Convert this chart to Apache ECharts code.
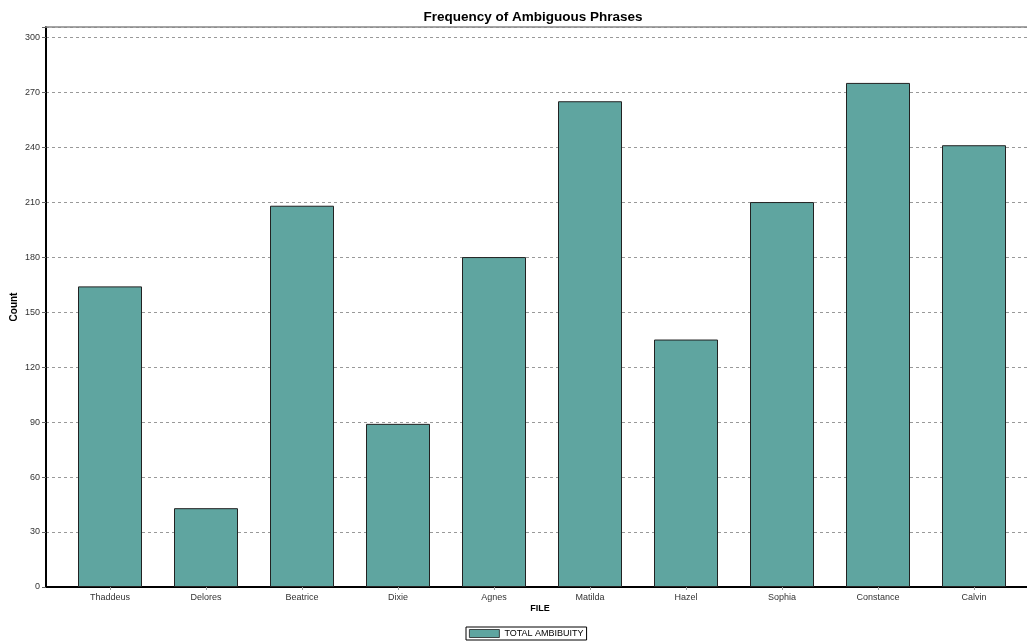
<!DOCTYPE html>
<html>
<head>
<meta charset="utf-8">
<script src="https://cdn.jsdelivr.net/npm/echarts@6/dist/echarts.min.js"></script>
<style>html,body{margin:0;padding:0;background:#fff}#c{width:1027px;height:641px}</style>
</head>
<body>
<div id="c"></div>
<script>
var categories = ['Thaddeus','Delores','Beatrice','Dixie','Agnes','Matilda','Hazel','Sophia','Constance','Calvin'];
var values = [164, 43, 208, 89, 180, 265, 135, 210, 275, 241];
var seriesName = 'TOTAL AMBIBUITY';
var yTickStep = 30;
var yMax = 305.5;

var chart = echarts.init(document.getElementById('c'));
var font = 'Arial, "Liberation Sans", sans-serif';
chart.setOption({
  animation: false,
  backgroundColor: '#fff',
  title: {
    text: 'Frequency of Ambiguous Phrases',
    left: 528, top: 5, textAlign: 'center',
    textStyle: {fontFamily: font, fontSize: 13.5, fontWeight: 'bold', color: '#000'}
  },
  legend: {
    data: [{name: seriesName, icon: 'rect', itemStyle: {borderWidth: 0.8}}],
    left: 466, top: 627,
    itemWidth: 30, itemHeight: 8, itemGap: 4,
    borderColor: '#000', borderWidth: 1, padding: [2, 3, 2, 3],
    textStyle: {fontFamily: font, fontSize: 9, color: '#000'}
  },
  grid: [
    {left: 46, right: 0, top: 27, bottom: 54, outerBoundsMode: 'none', containLabel: false},
    {left: 62, right: 5, top: 27, bottom: 54, outerBoundsMode: 'none', containLabel: false}
  ],
  xAxis: [
    {gridIndex: 0, type: 'value', position: 'bottom', min: 0, max: 1,
     axisLine: {show: true, lineStyle: {color: '#000', width: 2}},
     axisTick: {show: false}, axisLabel: {show: false}, splitLine: {show: false},
     name: 'FILE', nameLocation: 'middle', nameGap: 17, nameMoveOverlap: false,
     nameTextStyle: {fontFamily: font, fontSize: 9, fontWeight: 'bold', color: '#000', padding: [0, 0, 0, 7]}},
    {gridIndex: 0, type: 'value', position: 'top', min: 0, max: 1,
     axisLine: {show: true, lineStyle: {color: '#888', width: 1.5}},
     axisTick: {show: false}, axisLabel: {show: false}, splitLine: {show: false}},
    {gridIndex: 1, type: 'category', data: categories, position: 'bottom',
     axisLine: {show: false},
     axisTick: {show: true, alignWithLabel: true, length: 3, lineStyle: {color: '#999'}},
     axisLabel: {fontFamily: font, fontSize: 9, color: '#333', margin: 6}}
  ],
  yAxis: [
    {gridIndex: 0, type: 'value', min: 0, max: yMax, interval: yTickStep,
     axisLine: {show: true, lineStyle: {color: '#000', width: 2}},
     axisTick: {show: true, length: 4, lineStyle: {color: '#666'}},
     axisLabel: {fontFamily: font, fontSize: 9, color: '#333', margin: 6,
       formatter: function (v) { return v % yTickStep === 0 ? String(v) : ''; }},
     splitLine: {show: true, lineStyle: {color: '#999', type: [3, 3], width: 1}},
     name: 'Count', nameLocation: 'middle', nameGap: 27, nameRotate: 90, nameMoveOverlap: false,
     nameTextStyle: {fontFamily: font, fontSize: 10, fontWeight: 'bold', color: '#000'}},
    {gridIndex: 1, type: 'value', min: 0, max: yMax, interval: yTickStep, show: false}
  ],
  series: [{
    name: seriesName, type: 'bar', xAxisIndex: 2, yAxisIndex: 1,
    data: values, barWidth: 64,
    itemStyle: {color: '#5fa5a0', borderColor: '#222', borderWidth: 1}
  }]
});
</script>
</body>
</html>
